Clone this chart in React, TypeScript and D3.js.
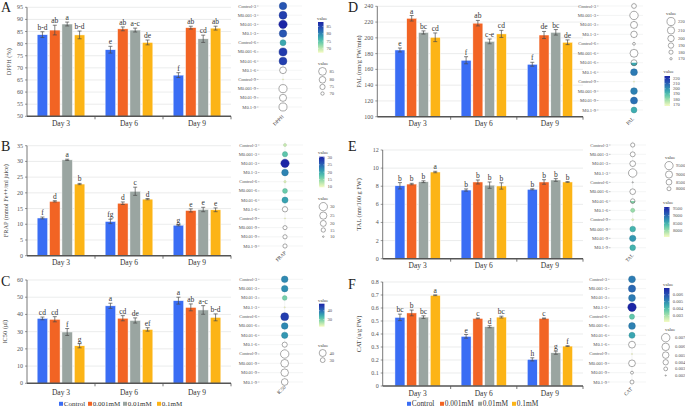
import React from "react";
import * as d3 from "d3";

// ---------- shared categories ----------
const days = ["Day 3", "Day 6", "Day 9"];
const treatments = ["Control", "0.001mM", "0.01mM", "0.1mM"];
const treatmentColors = ["#3a6df4", "#f26424", "#9aa5a1", "#fcb416"];
const dotGroups = ["Control", "M0.001", "M0.01", "M0.1"];
const dotDays = ["3", "6", "9"];

// ---------- A: DPPH ----------
const dpphMean = [[83.7, 85.6, 88.1, 83.6], [77.5, 86.1, 85.6, 80.5], [67.0, 86.6, 82.0, 86.4]];
const dpphErr = [[1.2, 2.0, 0.8, 1.6], [1.4, 0.8, 0.8, 1.0], [1.0, 0.6, 1.5, 0.8]];
const dpphLetters = [["b-d", "ab", "a", "b-d"], ["e", "ab", "a-c", "de"], ["f", "ab", "cd", "ab"]];
const dpphTicks = [50, 55, 60, 65, 70, 75, 80, 85, 90, 95];
const dpphFill = [1, 1, 1, 1, 1, 1, 1, 0, 1, 0, 0, 0];
const dpphLegTicks = [85, 80, 75, 70];
const dpphLegLabels = ["85", "80", "75", "70"];

// ---------- B: FRAP ----------
const frapMean = [[12.0, 17.3, 30.5, 22.8], [10.9, 16.7, 20.5, 18.0], [9.7, 14.4, 14.7, 14.6]];
const frapErr = [[0.3, 0.2, 0.2, 0.2], [0.7, 0.4, 1.3, 0.2], [0.2, 0.5, 0.7, 0.6]];
const frapLetters = [["f", "d", "a", "b"], ["fg", "d", "c", "d"], ["g", "e", "e", "e"]];
const frapTicks = [0, 5, 10, 15, 20, 25, 30, 35];
const frapFill = [1, 1, 1, 1, 1, 1, 1, 0, 1, 0, 0, 0];
const frapLegTicks = [30, 25, 20, 15, 10];
const frapLegLabels = ["30", "25", "20", "15", "10"];

// ---------- C: IC50 ----------
const icMean = [[37.7, 37.2, 29.8, 21.8], [45.0, 37.8, 36.5, 31.3], [48.0, 44.1, 42.6, 38.3]];
const icErr = [[0.8, 1.5, 2.0, 1.2], [1.5, 1.5, 1.5, 1.0], [2.0, 2.0, 2.5, 2.0]];
const icLetters = [["cd", "cd", "f", "g"], ["a", "cd", "de", "ef"], ["a", "ab", "a-c", "b-d"]];
const icTicks = [0, 10, 20, 30, 40, 50, 60];
const icFill = [1, 1, 1, 1, 1, 1, 1, 0, 0, 0, 0, 0];
const icLegTicks = [40, 30];
const icLegLabels = ["40", "30"];

// ---------- D: PAL ----------
const palMean = [[184.6, 224.8, 206.8, 200.7], [171.6, 218.6, 195.5, 205.0], [166.5, 203.6, 207.0, 194.4]];
const palErr = [[2.5, 3.5, 2.0, 5.5], [4.5, 3.5, 3.0, 4.5], [2.5, 4.5, 3.5, 3.0]];
const palLetters = [["e", "a", "bc", "cd"], ["f", "ab", "c-e", "cd"], ["f", "de", "bc", "de"]];
const palTicks = [100, 120, 140, 160, 180, 200, 220, 240];
const palFill = [0, 0, 0, 0, 0, 0, 2, 1, 1, 1, 1, 1];
const palLegTicks = [220, 210, 200, 190, 180, 170];
const palLegLabels = ["220", "210", "200", "190", "180", "170"];

// ---------- E: TAL ----------
const talMean = [[8.05, 8.24, 8.5, 9.57], [7.58, 8.47, 8.12, 8.03], [7.66, 8.47, 8.69, 8.47]];
const talErr = [[0.35, 0.08, 0.1, 0.08], [0.12, 0.22, 0.35, 0.35], [0.06, 0.25, 0.15, 0.04]];
const talLetters = [["b", "b", "b", "a"], ["b", "b", "b", "b"], ["b", "b", "b", "b"]];
const talTicks = [0, 2, 4, 6, 8, 10, 12];
const talFill = [0, 0, 0, 0, 0, 0, 2, 1, 1, 1, 1, 1];
const talLegTicks = [9.5, 9.0, 8.5, 8.0];
const talLegLabels = ["9500", "9000", "8500", "8000"];

// ---------- F: CAT ----------
const catMean = [[0.528, 0.562, 0.53, 0.698], [0.382, 0.52, 0.456, 0.53], [0.205, 0.52, 0.256, 0.307]];
const catErr = [[0.025, 0.022, 0.01, 0.003], [0.014, 0.003, 0.008, 0.007], [0.012, 0.003, 0.012, 0.003]];
const catLetters = [["bc", "b", "bc", "a"], ["e", "c", "d", "bc"], ["h", "c", "g", "f"]];
const catTicks = [0, 0.1, 0.2, 0.3, 0.4, 0.5, 0.6, 0.7, 0.8];
const catFill = [1, 1, 1, 1, 1, 1, 1, 0, 1, 0, 0, 0];
const catLegTicks = [0.7, 0.6, 0.5, 0.4, 0.3, 0.2];
const catLegLabels = ["0.007", "0.006", "0.005", "0.004", "0.003", "0.002"];

// ---------- layout ----------
const FONT = "'Liberation Serif', 'DejaVu Serif', serif";
const valueColor = d3.interpolateRgbBasis(["#f4fbc2", "#a8e0a6", "#46c3ae", "#2b8db3", "#2950b6", "#1b25a6"]);
const R_MIN = 0.6;
const R_MAX = 4.2;

const leftCol = { axisX: 27, bandX0: 27, bandX1: 231, groupW: 47.7, titleX: 11 };
const rightCol = { axisX: 382.7, bandX0: 384.5, bandX1: 583, groupW: 45.3, titleX: 361 };

const panels = [
  {
    letter: "A", title: "DPPH (%)", dotName: "DPPH", mean: dpphMean, err: dpphErr, letters: dpphLetters,
    ticks: dpphTicks, fill: dpphFill, legTicks: dpphLegTicks, legLabels: dpphLegLabels,
    L: { ...leftCol, yTop: 7.3, yBot: 116.3, letterX: 1, letterY: 12, dayY: 125.5, titleX: 11,
      dot: { x: 283, y0: 6, y1: 107, labelX: 256, gridX1: 302, nameX: 284, nameY: 117 },
      cleg: { x: 318, titleY: 20, y0: 22, y1: 52.7, labelX: 326.5 },
      sleg: { x: 322.5, titleX: 318, titleY: 64.5, labelX: 329.5 } },
  },
  {
    letter: "B", title: "FRAP (mmol Fe++/ml juice)", dotName: "FRAP", mean: frapMean, err: frapErr, letters: frapLetters,
    ticks: frapTicks, fill: frapFill, legTicks: frapLegTicks, legLabels: frapLegLabels,
    L: { ...leftCol, yTop: 145.7, yBot: 255.7, letterX: 1, letterY: 151, dayY: 264.5, titleX: 8,
      dot: { x: 285, y0: 145, y1: 246, labelX: 257, gridX1: 303, nameX: 286.5, nameY: 253 },
      cleg: { x: 319, titleY: 154, y0: 156.7, y1: 187.3, labelX: 327.5 },
      sleg: { x: 323.3, titleX: 318, titleY: 199.5, labelX: 330 } },
  },
  {
    letter: "C", title: "IC50 (µl)", dotName: "IC50", mean: icMean, err: icErr, letters: icLetters,
    ticks: icTicks, fill: icFill, legTicks: icLegTicks, legLabels: icLegLabels,
    L: { ...leftCol, yTop: 280, yBot: 383.3, letterX: 1, letterY: 286, dayY: 394.5, titleX: 7,
      dot: { x: 284.7, y0: 279.3, y1: 382, labelX: 257, gridX1: 303, nameX: 286, nameY: 387.5 },
      cleg: { x: 319, titleY: 301.5, y0: 303.7, y1: 326.7, labelX: 327.5 },
      sleg: { x: 322.7, titleX: 318, titleY: 346.5, labelX: 329.5 } },
  },
  {
    letter: "D", title: "PAL (nm/g FW/min)", dotName: "PAL", mean: palMean, err: palErr, letters: palLetters,
    ticks: palTicks, fill: palFill, legTicks: palLegTicks, legLabels: palLegLabels,
    L: { ...rightCol, axisX: 377.3, yTop: 6.3, yBot: 116.7, letterX: 348, letterY: 12, dayY: 125.5,
      dot: { x: 634, y0: 6, y1: 110, labelX: 596, gridX1: 643, nameX: 634.5, nameY: 119 },
      cleg: { x: 664.5, titleY: 73, y0: 76, y1: 106, labelX: 673 },
      sleg: { x: 671, titleX: 666, titleY: 14.5, labelX: 678 } },
  },
  {
    letter: "E", title: "TAL (nm/100 g FW)", dotName: "TAL", mean: talMean, err: talErr, letters: talLetters,
    ticks: talTicks, fill: talFill, legTicks: talLegTicks, legLabels: talLegLabels,
    L: { ...rightCol, yTop: 150, yBot: 258.7, letterX: 348, letterY: 151, dayY: 268,
      dot: { x: 632.7, y0: 145, y1: 247.7, labelX: 608, gridX1: 646, nameX: 634, nameY: 255.7 },
      cleg: { x: 664, titleY: 204, y0: 207, y1: 237, labelX: 673 },
      sleg: { x: 669, titleX: 665, titleY: 158.5, labelX: 676 } },
  },
  {
    letter: "F", title: "CAT (u/g FW)", dotName: "CAT", mean: catMean, err: catErr, letters: catLetters,
    ticks: catTicks, fill: catFill, legTicks: catLegTicks, legLabels: catLegLabels,
    L: { ...rightCol, yTop: 282, yBot: 386, letterX: 348, letterY: 289, dayY: 395.5,
      dot: { x: 632, y0: 279.3, y1: 382, labelX: 607, gridX1: 646, nameX: 632.7, nameY: 389.3 },
      cleg: { x: 664, titleY: 285.5, y0: 288, y1: 322, labelX: 672.7 },
      sleg: { x: 665.7, titleX: 665, titleY: 330.5, labelX: 675 } },
  },
];

const treatLegends = [
  { xs: [59, 88, 123, 157], y: 406, fs: 7 },
  { xs: [407, 440, 478, 512], y: 406, fs: 7.4 },
];

function fmtTick(v: number) {
  return Math.abs(v) < 1 && v !== 0 ? d3.format(".1f")(v) : String(v);
}

function BarPanel({ p }: any) {
  const L = p.L;
  const dom = d3.extent(p.ticks) as [number, number];
  const y = d3.scaleLinear().domain(dom).range([L.yBot, L.yTop]);
  const x0 = d3.scaleBand().domain(days).range([L.bandX0, L.bandX1]);
  const x1 = d3.scaleBand().domain(treatments).range([0, L.groupW]).paddingInner(0.15);
  const off = (x0.bandwidth() - L.groupW) / 2;
  const midY = (L.yTop + L.yBot) / 2;
  return (
    <g>
      <text x={L.letterX} y={L.letterY} fontSize={14} fontFamily={FONT} fill="#222">{p.letter}</text>
      {p.ticks.map((t: number) => (
        <g key={t}>
          {t !== dom[0] && <line x1={L.axisX} x2={L.bandX1} y1={y(t)} y2={y(t)} stroke="#e2e4e4" strokeWidth={0.7} />}
          <line x1={L.axisX - 2} x2={L.axisX} y1={y(t)} y2={y(t)} stroke="#555" strokeWidth={0.6} />
          <text x={L.axisX - 4} y={y(t) + 2} fontSize={6} fontFamily={FONT} fill="#555" textAnchor="end">{fmtTick(t)}</text>
        </g>
      ))}
      <line x1={L.axisX} x2={L.axisX} y1={L.yTop} y2={L.yBot} stroke="#555" strokeWidth={0.8} />
      <text transform={`translate(${L.titleX},${midY}) rotate(-90)`} fontSize={6.3} fontFamily={FONT} fill="#444" textAnchor="middle">{p.title}</text>
      {days.map((d, i) => {
        const gx = (x0(d) as number) + off;
        return (
          <g key={d}>
            {treatments.map((t, j) => {
              const v = p.mean[i][j];
              const e = p.err[i][j];
              const bx = gx + (x1(t) as number);
              const cx = bx + x1.bandwidth() / 2;
              return (
                <g key={t}>
                  <rect x={bx} y={y(v)} width={x1.bandwidth()} height={y(dom[0]) - y(v)} fill={treatmentColors[j]} stroke="#ffffff" strokeWidth={0.5} />
                  <line x1={cx} x2={cx} y1={y(v - e)} y2={y(v + e)} stroke="#4a4a4a" strokeWidth={0.7} />
                  <line x1={cx - 2} x2={cx + 2} y1={y(v - e)} y2={y(v - e)} stroke="#4a4a4a" strokeWidth={0.7} />
                  <line x1={cx - 2} x2={cx + 2} y1={y(v + e)} y2={y(v + e)} stroke="#4a4a4a" strokeWidth={0.7} />
                  <text x={cx} y={y(v + e) - 2} fontSize={7.5} fontFamily={FONT} fill="#333" textAnchor="middle">{p.letters[i][j]}</text>
                </g>
              );
            })}
            <text x={(x0(d) as number) + x0.bandwidth() / 2} y={L.dayY} fontSize={7.5} fontFamily={FONT} fill="#333" textAnchor="middle">{d}</text>
            <line x1={(x0(d) as number) + x0.bandwidth()} x2={(x0(d) as number) + x0.bandwidth()} y1={L.yBot} y2={L.yBot + 3} stroke="#555" strokeWidth={0.8} />
          </g>
        );
      })}
      <line x1={L.axisX} x2={L.bandX1} y1={L.yBot} y2={L.yBot} stroke="#555" strokeWidth={1.4} />
    </g>
  );
}

function DotPanel({ p, idx }: any) {
  const D = p.L.dot;
  const C = p.L.cleg;
  const S = p.L.sleg;
  const values: number[] = p.mean.flat();
  const labels = dotDays.flatMap((dd) => dotGroups.map((g) => `${g}-${dd}`));
  const yRow = d3.scalePoint().domain(labels).range([D.y0, D.y1]);
  const ext = d3.extent(values) as [number, number];
  const t = d3.scaleLinear().domain(ext).range([0, 1]);
  const r = (v: number) => Math.sqrt(R_MIN * R_MIN + Math.max(0, t(v)) * (R_MAX * R_MAX - R_MIN * R_MIN));
  const col = (v: number) => valueColor(Math.max(0, Math.min(1, t(v))));
  const cy = d3.scaleLinear().domain(ext).range([C.y1, C.y0]);
  const gid = `grad${idx}`;
  // size legend positions
  const sPos: number[] = [];
  p.legTicks.forEach((v: number, i: number) => {
    if (i === 0) sPos.push(S.titleY + 3 + r(v));
    else sPos.push(sPos[i - 1] + Math.max(r(p.legTicks[i - 1]) + r(v) + 1.2, 6.6));
  });
  const stops = d3.range(0, 1.0001, 0.1);
  return (
    <g>
      <defs>
        <linearGradient id={gid} x1="0" y1="1" x2="0" y2="0">
          {stops.map((s) => <stop key={s} offset={s} stopColor={valueColor(s)} />)}
        </linearGradient>
      </defs>
      <line x1={D.x} x2={D.x} y1={D.y0 - 4} y2={D.y1 + 4} stroke="#eceeee" strokeWidth={0.6} />
      {labels.map((lab, i) => {
        const yy = yRow(lab) as number;
        const v = values[i];
        const f = p.fill[i];
        const rr = r(v);
        return (
          <g key={lab}>
            <line x1={D.labelX + 2.5} x2={D.gridX1} y1={yy} y2={yy} stroke="#eceeee" strokeWidth={0.6} />
            <line x1={D.labelX + 0.8} x2={D.labelX + 2.5} y1={yy} y2={yy} stroke="#666" strokeWidth={0.4} />
            <text x={D.labelX} y={yy + 1.5} fontSize={4.6} fontFamily={FONT} fill="#555" textAnchor="end">{lab}</text>
            {f === 1 ? (
              <circle cx={D.x} cy={yy} r={rr} fill={col(v)} stroke={d3.color(col(v))!.darker(0.6).toString()} strokeWidth={0.4} />
            ) : (
              <g>
                <circle cx={D.x} cy={yy} r={rr} fill="#fff" stroke="#555" strokeWidth={0.5} />
                {f === 2 && (
                  <g>
                    <clipPath id={`half${idx}-${i}`}>
                      <rect x={D.x - rr - 1} y={yy} width={2 * rr + 2} height={rr + 1} />
                    </clipPath>
                    <circle cx={D.x} cy={yy} r={rr} fill={col(v)} stroke="#555" strokeWidth={0.4} clipPath={`url(#half${idx}-${i})`} />
                  </g>
                )}
              </g>
            )}
          </g>
        );
      })}
      <text transform={`translate(${D.nameX},${D.nameY}) rotate(-45)`} fontSize={5} fontFamily={FONT} fill="#444" textAnchor="end">{p.dotName}</text>
      {/* colour legend */}
      <text x={C.x - 1} y={C.titleY} fontSize={4.8} fontFamily={FONT} fill="#444">value</text>
      <rect x={C.x} y={C.y0} width={5.5} height={C.y1 - C.y0} fill={`url(#${gid})`} />
      {p.legTicks.map((v: number, i: number) => (
        v >= ext[0] && v <= ext[1] ? (
          <g key={v}>
            <line x1={C.x} x2={C.x + 1.2} y1={cy(v)} y2={cy(v)} stroke="#fff" strokeWidth={0.4} />
            <line x1={C.x + 4.3} x2={C.x + 5.5} y1={cy(v)} y2={cy(v)} stroke="#fff" strokeWidth={0.4} />
            <text x={C.labelX} y={cy(v) + 1.5} fontSize={4.6} fontFamily={FONT} fill="#555">{p.legLabels[i]}</text>
          </g>
        ) : null
      ))}
      {/* size legend */}
      <text x={S.titleX} y={S.titleY} fontSize={4.8} fontFamily={FONT} fill="#444">value</text>
      {p.legTicks.map((v: number, i: number) => (
        <g key={v}>
          <circle cx={S.x} cy={sPos[i]} r={r(v)} fill="#fff" stroke="#555" strokeWidth={0.5} />
          <text x={S.labelX} y={sPos[i] + 1.5} fontSize={4.6} fontFamily={FONT} fill="#555">{p.legLabels[i]}</text>
        </g>
      ))}
    </g>
  );
}

export default function App() {
  return (
    <svg width={685} height={410} viewBox="0 0 685 410" style={{ position: "absolute", left: 0, top: 0, background: "#fff" }}>
      <rect x={0} y={0} width={685} height={410} fill="#fff" />
      {panels.map((p, i) => (
        <g key={p.letter}>
          <BarPanel p={p} />
          <DotPanel p={p} idx={i} />
        </g>
      ))}
      {treatLegends.map((lg, k) => (
        <g key={k}>
          {treatments.map((t, j) => (
            <g key={t}>
              <rect x={lg.xs[j]} y={lg.y - 4.2} width={4} height={4} fill={treatmentColors[j]} />
              <text x={lg.xs[j] + 4.8} y={lg.y} fontSize={lg.fs} fontFamily={FONT} fill="#333">{t}</text>
            </g>
          ))}
        </g>
      ))}
    </svg>
  );
}
